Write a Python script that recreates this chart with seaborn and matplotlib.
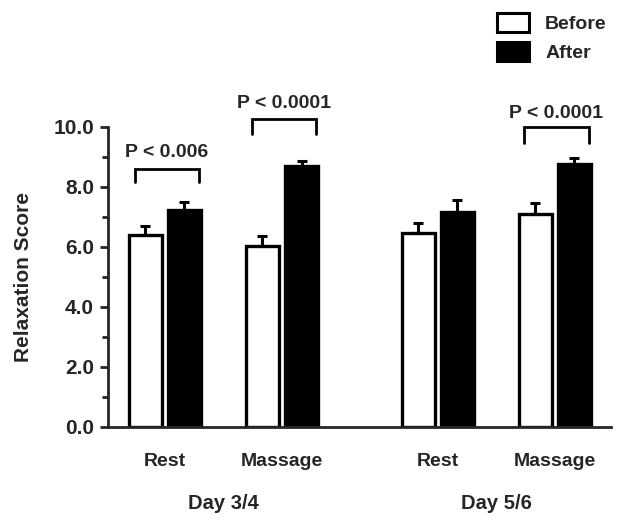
import numpy as np
import pandas as pd
import seaborn as sns
import matplotlib.pyplot as plt
from matplotlib.patches import Patch
from matplotlib.ticker import MultipleLocator
import matplotlib.transforms as mtransforms

# Group layout: Rest/Massage on Day 3/4, then Rest/Massage on Day 5/6
days = ["Day 3/4", "Day 3/4", "Day 5/6", "Day 5/6"]
conditions = ["Rest", "Massage", "Rest", "Massage"]
x_pos = [0.0, 1.0, 2.33, 3.33]

before_mean = [6.40, 6.03, 6.46, 7.10]
after_mean = [7.24, 8.69, 7.17, 8.75]
before_err = [0.30, 0.33, 0.34, 0.37]
after_err = [0.27, 0.17, 0.40, 0.23]

# significance annotations: (group index, bracket top, leg bottom, text baseline, label)
sig_groups = [0, 1, 3]
sig_top = [8.59, 10.27, 10.0]
sig_leg = [8.18, 9.76, 9.46]
sig_text_y = [9.0, 10.63, 10.3]
sig_labels = ["P < 0.006", "P < 0.0001", "P < 0.0001"]

df = pd.DataFrame({
    "x": x_pos * 2,
    "score": before_mean + after_mean,
    "err": before_err + after_err,
    "time": ["Before"] * 4 + ["After"] * 4,
})

sns.set_style("ticks")
plt.rcParams["font.family"] = ["Liberation Sans", "DejaVu Sans"]
plt.rcParams["font.weight"] = "bold"

fig = plt.figure(figsize=(6.17, 5.23), dpi=100)
ax = fig.add_axes([0.175, 0.1836, 0.815, 0.5736])

sns.barplot(data=df, x="x", y="score", hue="time", hue_order=["Before", "After"],
            palette={"Before": "white", "After": "black"}, native_scale=True,
            width=0.667, gap=0.15, errorbar=None, edgecolor="black",
            linewidth=2.4, legend=False, ax=ax)

# upward-only error bars on each bar, located from the drawn patches
bars = ax.patches
order_err = before_err + after_err
for bar, e in zip(bars, order_err):
    cx = bar.get_x() + bar.get_width() / 2
    h = bar.get_height()
    ax.errorbar([cx], [h], yerr=[[0], [e]], fmt="none", ecolor="black",
                elinewidth=2.2, capsize=3.5, capthick=2.2, zorder=1)

ax.set_ylim(0, 10)
ax.set_xlim(-0.487, 3.81)
ax.yaxis.set_minor_locator(MultipleLocator(1))
ax.set_yticks(np.arange(0, 11, 2))
ax.set_yticklabels([f"{v:.1f}" for v in np.arange(0, 11, 2)], fontsize=15, fontweight="bold")
ax.tick_params(axis="y", which="major", length=6, width=2, direction="out", pad=4)
ax.tick_params(axis="y", which="minor", length=4, width=2, direction="out")
ax.set_xticks(x_pos)
ax.set_xticklabels(conditions, fontsize=14, fontweight="bold")
ax.tick_params(axis="x", length=0, pad=19)
ax.set_xlabel("")
ax.set_ylabel("Relaxation Score", fontsize=15, fontweight="bold", labelpad=15)

sns.despine(ax=ax)
ax.spines["left"].set_linewidth(2)
ax.spines["bottom"].set_linewidth(2)

# day labels below the condition labels
trans = mtransforms.blended_transform_factory(ax.transData, ax.transAxes)
for d in sorted(set(days)):
    xs = [x for x, dd in zip(x_pos, days) if dd == d]
    ax.text(np.mean(xs), -0.256, d, transform=trans, ha="center", va="center",
            fontsize=14.5, fontweight="bold")

# significance brackets
for g, top, leg, ty, lab in zip(sig_groups, sig_top, sig_leg, sig_text_y, sig_labels):
    cx = x_pos[g]
    xl, xr = cx - 0.26, cx + 0.29
    ax.plot([xl, xl, xr, xr], [leg, top, top, leg], color="black", lw=2,
            clip_on=False, solid_joinstyle="miter")
    ax.text((xl + xr) / 2, ty, lab, ha="center", va="baseline",
            fontsize=14, fontweight="bold", clip_on=False)

handles = [Patch(facecolor="white", edgecolor="black", linewidth=2.2, label="Before"),
           Patch(facecolor="black", edgecolor="black", linewidth=2.2, label="After")]
fig.legend(handles=handles, loc="upper left", bbox_to_anchor=(0.786, 0.998),
           frameon=False, prop={"size": 14, "weight": "bold"},
           handlelength=1.65, handleheight=1.15, labelspacing=0.45, handletextpad=0.85,
           borderaxespad=0.2)

fig.savefig("out.png", dpi=100)
